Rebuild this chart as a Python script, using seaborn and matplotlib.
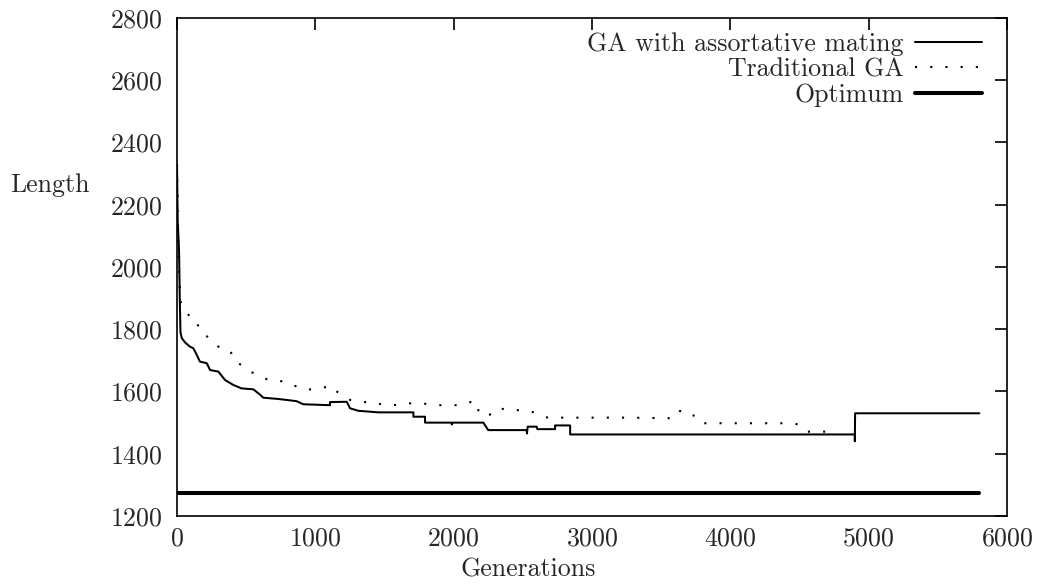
import matplotlib
matplotlib.use("Agg")
import matplotlib.pyplot as plt
import seaborn as sns
import pandas as pd

# ---- data ----
ga_assort_gen = [0, 5, 15, 20, 25, 35, 60, 94, 118, 140, 166, 215, 239, 299, 347, 407,
                 466, 552, 600, 624, 733, 864, 913, 1106, 1106, 1227, 1251, 1311, 1456,
                 1709, 1709, 1793, 1793, 1986, 1986, 1995, 2214, 2250, 2527, 2530, 2535,
                 2600, 2605, 2733, 2733, 2842, 2842, 4900, 4900, 4902, 5800]
ga_assort_len = [2330, 2150, 2050, 1900, 1790, 1771, 1757, 1744, 1739, 1720, 1696, 1691,
                 1669, 1664, 1637, 1621, 1610, 1607, 1590, 1580, 1576, 1569, 1559, 1556,
                 1566, 1567, 1546, 1538, 1533, 1533, 1519, 1519, 1500, 1500, 1494, 1500,
                 1500, 1476, 1476, 1465, 1487, 1487, 1479, 1479, 1491, 1491, 1462, 1462,
                 1440, 1530, 1530]

trad_gen = [0, 8, 15, 25, 46, 94, 142, 154, 178, 239, 299, 383, 419, 466, 503, 600, 660,
            780, 830, 890, 940, 1000, 1060, 1106, 1155, 1203, 1251, 1340, 1420, 1505,
            1590, 1640, 1770, 1865, 2045, 2130, 2140, 2250, 2262, 2270, 2340, 2420, 2527,
            2600, 2680, 3250, 3600, 3637, 3670, 3760, 3806, 4445, 4505, 4558, 4710]
trad_len = [2330, 2100, 1980, 1890, 1867, 1840, 1830, 1808, 1787, 1771, 1744, 1733, 1696,
            1685, 1669, 1650, 1637, 1632, 1621, 1613, 1605, 1610, 1612, 1620, 1600, 1584,
            1573, 1566, 1566, 1555, 1557, 1562, 1562, 1556, 1556, 1567, 1540, 1540, 1525,
            1535, 1545, 1540, 1540, 1530, 1516, 1516, 1514, 1538, 1525, 1522, 1498, 1498,
            1493, 1471, 1471]

optimum_gen = [0, 5800]
optimum_len = [1273, 1273]

series_labels = ["GA with assortative mating", "Traditional GA", "Optimum"]
x_ticks = [0, 1000, 2000, 3000, 4000, 5000, 6000]
y_ticks = [1200, 1400, 1600, 1800, 2000, 2200, 2400, 2600, 2800]

# ---- style ----
sns.set_style("white")
plt.rcParams["font.family"] = ["cmr10", "DejaVu Serif"]
plt.rcParams["axes.formatter.use_mathtext"] = True
FS = 18.6
plt.rcParams["font.size"] = FS

fig = plt.figure(figsize=(10.39, 5.87), dpi=100)
ax = fig.add_axes([177 / 1039, 1 - 516 / 587, 830 / 1039, 498 / 587])

df1 = pd.DataFrame({"g": ga_assort_gen, "v": ga_assort_len})
df2 = pd.DataFrame({"g": trad_gen, "v": trad_len})
df3 = pd.DataFrame({"g": optimum_gen, "v": optimum_len})

sns.lineplot(data=df1, x="g", y="v", ax=ax, sort=False, estimator=None,
             color="black", lw=1.45, label=series_labels[0])
sns.lineplot(data=df2, x="g", y="v", ax=ax, sort=False, estimator=None,
             color="black", lw=1.5, linestyle=(0, (1, 6.3)), label=series_labels[1])
sns.lineplot(data=df3, x="g", y="v", ax=ax, sort=False, estimator=None,
             color="black", lw=2.9, label=series_labels[2])

ax.set_xlim(0, 6000)
ax.set_ylim(1200, 2800)
ax.set_xticks(x_ticks)
ax.set_yticks(y_ticks)
ax.tick_params(direction="in", length=8.5, width=1.2, top=True, right=True,
               labelsize=FS, color="black")
ax.tick_params(axis="y", pad=10)
ax.tick_params(axis="x", pad=8)
for s in ax.spines.values():
    s.set_visible(True)
    s.set_color("black")
    s.set_linewidth(1.2)

ax.set_xlabel("Generations", fontsize=FS, va="center")
ax.xaxis.set_label_coords(0.423, -0.108)
ax.set_ylabel("Length", fontsize=FS, rotation=0, ha="center", va="center")
ax.yaxis.set_label_coords(-0.153, 0.665)

leg = ax.legend(loc="upper right", bbox_to_anchor=(0.97, 0.972), frameon=False,
                markerfirst=False, fontsize=FS, handlelength=2.6, handletextpad=0.45,
                labelspacing=0.07, borderpad=0, borderaxespad=0)

fig.savefig("out.png", dpi=100)
